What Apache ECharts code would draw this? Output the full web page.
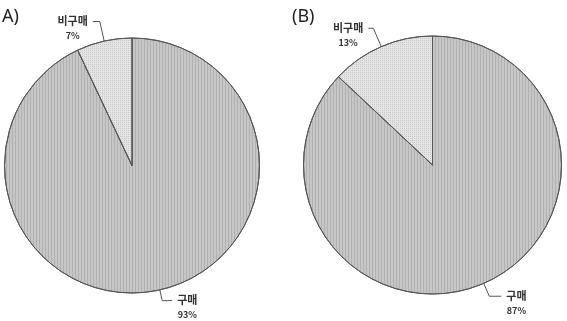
<!DOCTYPE html>
<html><head><meta charset="utf-8">
<style>html,body{margin:0;padding:0;background:#fff;}#c{width:567px;height:321px;}</style>
<script src="https://cdn.jsdelivr.net/npm/echarts@6/dist/echarts.min.js"></script>
</head><body><div id="c"></div>
<script>
const categories = ['구매', '비구매'];
const valuesA = [93, 7];
const valuesB = [87, 13];
const panelTitles = ['A)', '(B)'];

const colors = ['#c6c6c6', '#e4e4e4'];
const decals = [
  {symbol: 'rect', symbolSize: 1, dashArrayX: [1, 2], dashArrayY: [1, 0], color: 'rgba(120,120,120,0.25)', rotation: 0},
  {symbol: 'rect', symbolSize: 1, dashArrayX: [1, 1], dashArrayY: [1, 1], color: 'rgba(150,150,150,0.35)', rotation: 0}
];

function mkData(vals, lines) {
  return categories.map((n, i) => ({
    name: n, value: vals[i],
    itemStyle: {color: colors[i], decal: decals[i]},
    labelLine: {length: lines[i][0], length2: lines[i][1]}
  }));
}

function mkSeries(vals, center, radius, lines) {
  return {
    type: 'pie',
    center: center,
    radius: radius,
    startAngle: 90,
    clockwise: true,
    animation: false,
    silent: true,
    data: mkData(vals, lines),
    itemStyle: {borderColor: '#555', borderWidth: 1},
    label: {
      show: true,
      position: 'outside',
      formatter: p => '{n|' + p.name + '}\n{v|' + p.value + '%}',
      padding: [14, 0, 0, 0],
      rich: {
        n: {fontFamily: 'Noto Sans CJK KR', fontSize: 11, fontWeight: 'bold', color: '#333', lineHeight: 14, align: 'center'},
        v: {fontFamily: 'Noto Sans CJK KR', fontSize: 9, fontWeight: 'bold', color: '#333', lineHeight: 15, align: 'center'}
      }
    },
    labelLine: {show: true, lineStyle: {color: '#555', width: 1}}
  };
}

const chart = echarts.init(document.getElementById('c'), null, {renderer: 'canvas'});
chart.setOption({
  aria: {enabled: false},
  title: [
    {text: panelTitles[0], left: -3, top: 3, textStyle: {fontFamily: 'Noto Sans', fontSize: 18, fontWeight: 'normal', color: '#222'}},
    {text: panelTitles[1], left: 287, top: 3, textStyle: {fontFamily: 'Noto Sans', fontSize: 18, fontWeight: 'normal', color: '#222'}}
  ],
  series: [
    mkSeries(valuesA, [132, 165.5], 127.5, [[11, 10], [20, 7]]),
    mkSeries(valuesB, [432.5, 165], 129, [[14, 12], [20, 5]])
  ]
});
</script></body></html>
